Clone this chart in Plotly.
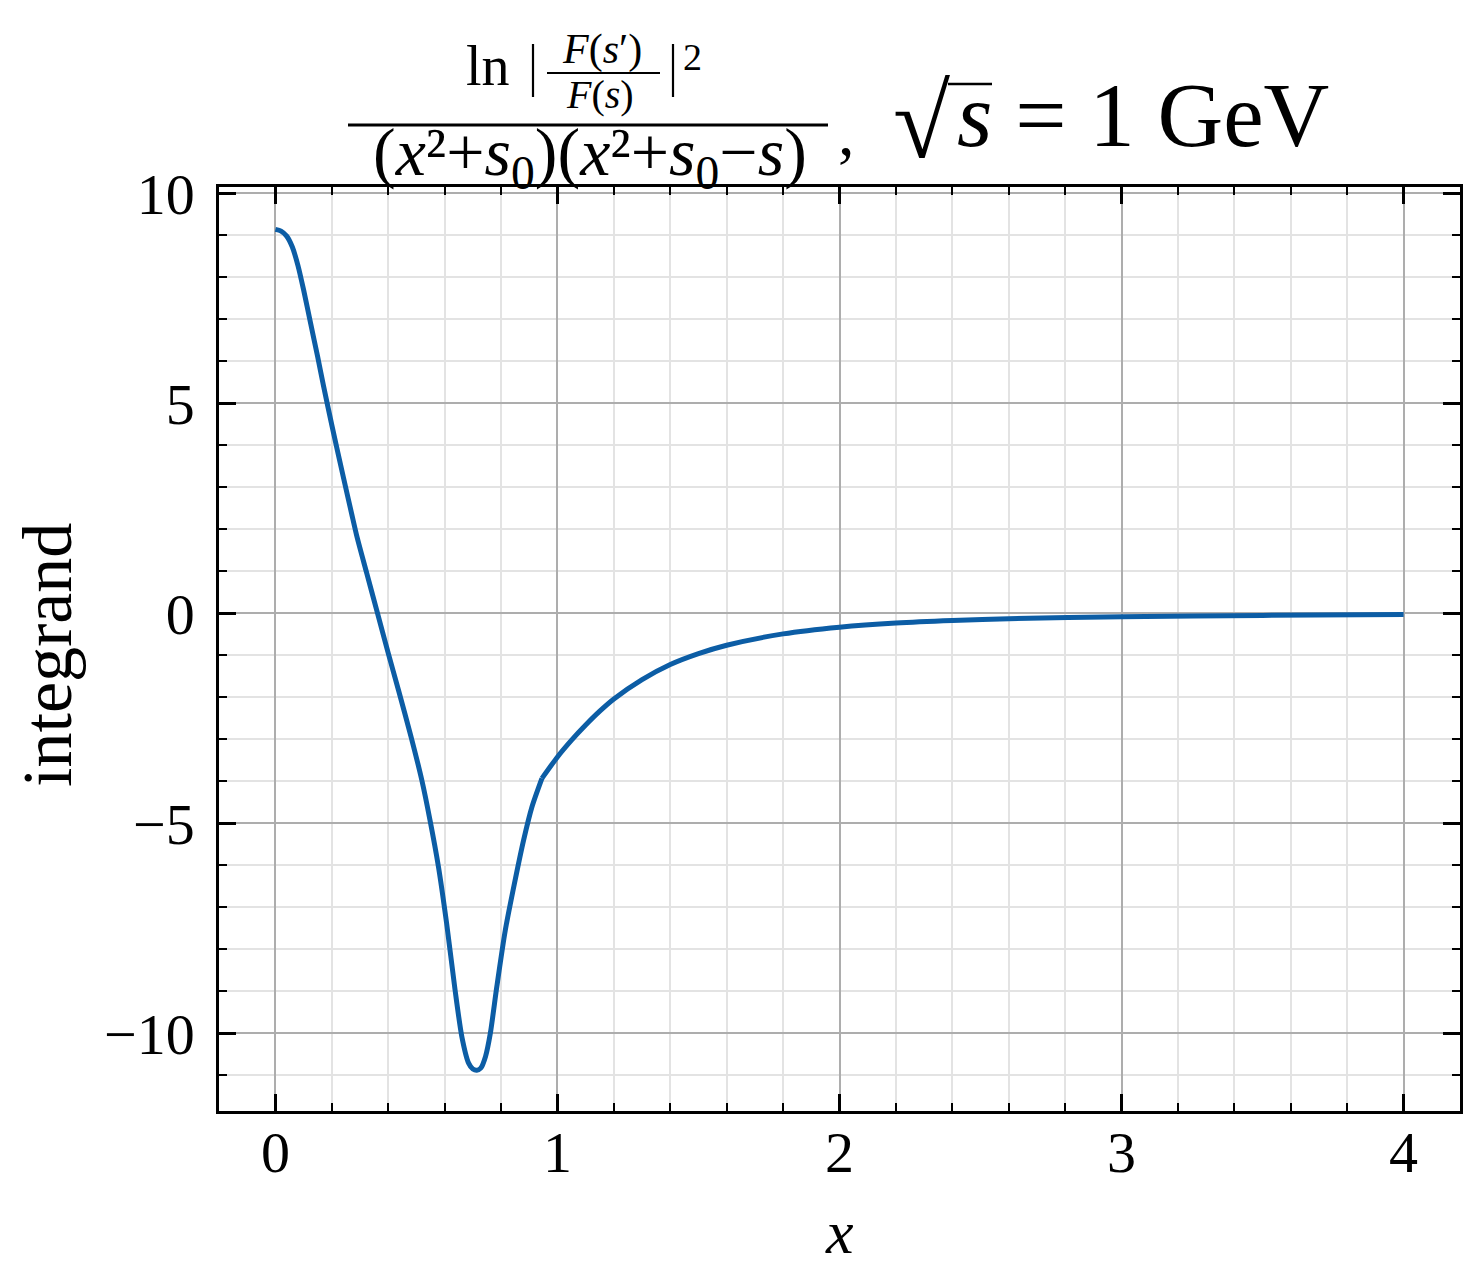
import plotly.graph_objects as go

# ---- data ----
x_left = [0.0, 0.02, 0.04, 0.06, 0.08, 0.1, 0.125, 0.15, 0.171, 0.2, 0.242, 0.27, 0.29,
          0.324, 0.36, 0.40, 0.436, 0.481, 0.519, 0.548, 0.578, 0.607, 0.637, 0.661, 0.685,
          0.70, 0.714, 0.728, 0.745, 0.762, 0.785, 0.815, 0.85, 0.88, 0.91, 0.945]
y_left = [9.14, 9.10, 8.98, 8.72, 8.28, 7.70, 6.9, 6.1, 5.4, 4.48, 3.21, 2.38, 1.8,
          0.95, 0.05, -0.95, -1.82, -2.94, -3.97, -4.92, -6.03, -7.38, -8.97, -10.08, -10.71,
          -10.85, -10.88, -10.83, -10.55, -10.0, -8.89, -7.55, -6.35, -5.40, -4.60, -3.93]
x_right = [0.945, 1.0, 1.05, 1.1, 1.15, 1.2, 1.3, 1.4, 1.5, 1.6, 1.8, 2.0, 2.2, 2.4, 2.6,
           3.0, 3.5, 4.0]
y_right = [-3.93, -3.42, -3.02, -2.66, -2.33, -2.04, -1.58, -1.22, -0.96, -0.76, -0.49, -0.33,
           -0.23, -0.17, -0.13, -0.08, -0.05, -0.03]

x_ticks = [0, 1, 2, 3, 4]
x_ticktext = ["0", "1", "2", "3", "4"]
y_ticks = [-10, -5, 0, 5, 10]
y_ticktext = ["\u221210", "\u22125", "0", "5", "10"]

FONT = "Liberation Serif"
COLOR = "#0C5DA5"
PAGE_OFF = 8  # default body margin of the html page
W_FIG, H_FIG = 1479 - PAGE_OFF, 1282 - PAGE_OFF
L, T, W, H = 219, 187, 1241, 924  # plot area in page pixels


def px(x):
    return (x - L) / W


def py(y):
    return (T + H - y) / H


fig = go.Figure()
for xs, ys in [(x_left, y_left), (x_right, y_right)]:
    fig.add_trace(go.Scatter(x=xs, y=ys, mode="lines",
                             line=dict(color=COLOR, width=5, shape="spline", smoothing=0.7),
                             showlegend=False, hoverinfo="skip"))

axis_common = dict(
    showline=True, linecolor="black", linewidth=2.5, mirror="allticks",
    ticks="inside", ticklen=17, tickwidth=2.5, tickcolor="black",
    showgrid=True, gridcolor="#adadad", gridwidth=2.4,
    zeroline=False,
    tickfont=dict(family=FONT, size=58, color="black"),
)

fig.update_xaxes(range=[-0.2, 4.2], tickmode="array", tickvals=x_ticks, ticktext=x_ticktext,
                 minor=dict(dtick=0.2, tick0=0, ticks="inside", ticklen=8, tickwidth=2,
                            tickcolor="black", showgrid=True, gridcolor="#e3e3e3", gridwidth=2),
                 ticklabelstandoff=-11, **axis_common)
fig.update_yaxes(range=[-11.85, 10.15], tickmode="array", tickvals=y_ticks, ticktext=y_ticktext,
                 minor=dict(dtick=1, tick0=0, ticks="inside", ticklen=8, tickwidth=2,
                            tickcolor="black", showgrid=True, gridcolor="#e3e3e3", gridwidth=2),
                 ticklabelstandoff=10, **axis_common)

ann = []


def A(text, x, y, size, xanchor="center", yanchor="middle", angle=0):
    ann.append(dict(text=text, x=px(x), y=py(y), xref="paper", yref="paper", showarrow=False,
                    font=dict(family=FONT, size=size, color="black"),
                    xanchor=xanchor, yanchor=yanchor, textangle=angle))


shapes = []


def Lsh(x0, y0, x1, y1, w):
    shapes.append(dict(type="line", xref="paper", yref="paper", x0=px(x0), y0=py(y0),
                       x1=px(x1), y1=py(y1), line=dict(color="black", width=w)))


# title pieces (numerator)
A("ln", 488, 66, 56)
Lsh(533, 44, 533, 97, 2.2)
Lsh(673, 44, 673, 97, 2.2)
A("<i>F</i>(<i>s</i>\u2032)", 602, 49, 42)
Lsh(547, 73, 660, 73, 2.2)
A("<i>F</i>(<i>s</i>)", 600, 94, 40)
A("2", 692, 57, 38)
# fraction bar
Lsh(348, 125, 828, 125, 3)
# denominator
A("(<i>x</i>\u00b2+<i>s</i><sub>0</sub>)(<i>x</i>\u00b2+<i>s</i><sub>0</sub>\u2212<i>s</i>)",
  590, 157, 68)
A(",", 846, 133, 66)
# sqrt(s) = 1 GeV
A("\u221a", 921, 122, 104)
Lsh(948, 84, 992, 84, 2.5)
A("<i>s</i> = 1 GeV", 955, 116, 91, xanchor="left")

# axis titles
A("integrand", 47, 655, 70, angle=-90)
A("<i>x</i>", 839, 1232, 62)

fig.update_layout(width=W_FIG, height=H_FIG,
                  margin=dict(l=L - PAGE_OFF, r=W_FIG - (L - PAGE_OFF) - W,
                              t=T - PAGE_OFF, b=H_FIG - (T - PAGE_OFF) - H),
                  plot_bgcolor="white", paper_bgcolor="white",
                  annotations=ann, shapes=shapes)

fig.write_html("out.html")
